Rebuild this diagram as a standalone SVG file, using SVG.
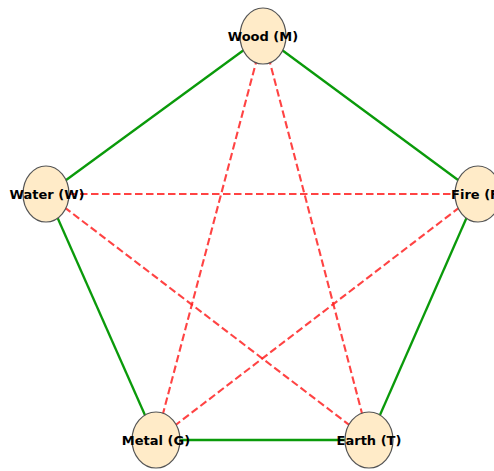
<svg xmlns="http://www.w3.org/2000/svg" width="494" height="471" viewBox="0 0 494 471">
<style>
.g{stroke:#0a9a0a;stroke-width:2.3;fill:none}
.r{stroke:#ff2222;stroke-opacity:0.85;stroke-width:2.1;stroke-dasharray:7.5,3.5;fill:none}
.n ellipse{fill:#ffebc8;stroke:#555;stroke-width:1.2}
.n text{font-family:"DejaVu Sans",sans-serif;font-weight:bold;font-size:13px;text-anchor:middle;dominant-baseline:central;fill:#000}
</style>
<rect width="494" height="471" fill="#fff"/>
<g id="edges">
<line class="g" x1="263" y1="36" x2="47" y2="194"/>
<line class="g" x1="263" y1="36" x2="477" y2="194"/>
<line class="g" x1="47" y1="194" x2="156" y2="440"/>
<line class="g" x1="477" y1="194" x2="369" y2="440"/>
<line class="g" x1="156" y1="440" x2="369" y2="440"/>
<line class="r" x1="263" y1="36" x2="156" y2="440"/>
<line class="r" x1="263" y1="36" x2="369" y2="440"/>
<line class="r" x1="47" y1="194" x2="477" y2="194"/>
<line class="r" x1="47" y1="194" x2="369" y2="440"/>
<line class="r" x1="477" y1="194" x2="156" y2="440"/>
</g>
<g id="wood" class="n"><ellipse cx="263" cy="36" rx="23" ry="28"/><text x="263" y="36">Wood (M)</text></g>
<g id="water" class="n"><ellipse cx="46" cy="194" rx="23" ry="28"/><text x="47" y="194">Water (W)</text></g>
<g id="fire" class="n"><ellipse cx="478" cy="194" rx="23" ry="28"/><text x="478" y="194">Fire (F)</text></g>
<g id="metal" class="n"><ellipse cx="156" cy="440" rx="24" ry="28"/><text x="156" y="440">Metal (G)</text></g>
<g id="earth" class="n"><ellipse cx="369" cy="440" rx="24" ry="28"/><text x="369" y="440">Earth (T)</text></g>
</svg>
